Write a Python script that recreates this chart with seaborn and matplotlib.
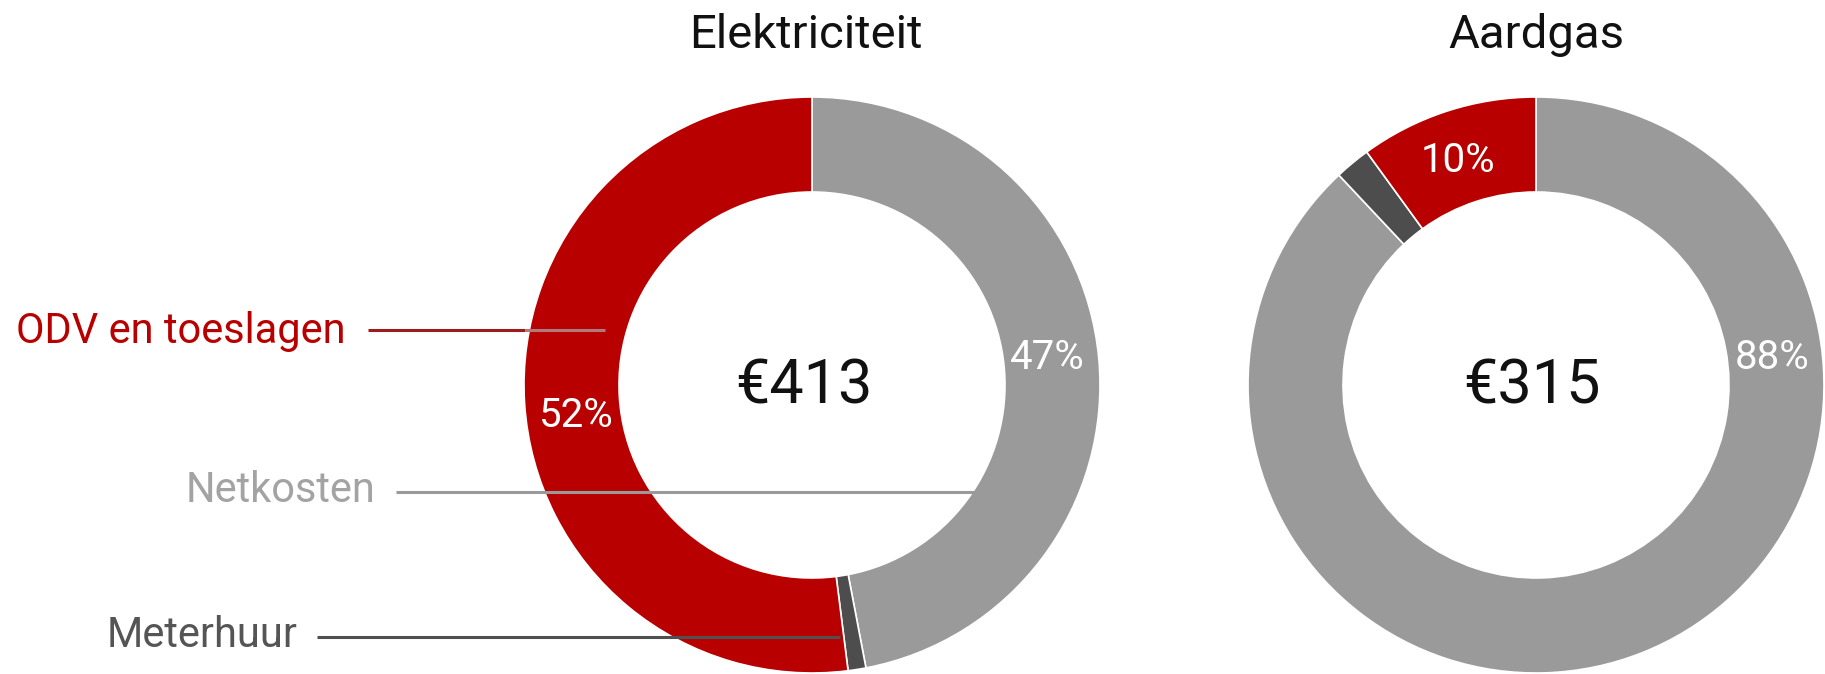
import numpy as np
import matplotlib.pyplot as plt
import seaborn as sns

# data
categories = ['Netkosten', 'Meterhuur', 'ODV en toeslagen']
elektriciteit = [47, 1, 52]
aardgas = [88, 2, 10]
totals = [413, 315]
titles = ['Elektriciteit', 'Aardgas']

sns.set_theme(style='white')
plt.rcParams['font.family'] = ['Roboto', 'DejaVu Sans']

W, H = 1825, 674
fig = plt.figure(figsize=(W / 100, H / 100), dpi=100)
ax = fig.add_axes([0, 0, 1, 1])


def yy(y):
    # pixel row (from top) -> data y
    return H - y


colors = ['#9a9a9a', '#4d4d4d', '#b80000']
text_colors = ['#a3a3a3', '#555555', '#b80000']
centers = [(812, 385), (1536, 385)]
title_x = [806, 1536]
total_x = [804, 1532]
R, ring = 288, 95

# percent label anchors (centre x, baseline y), None = no label
pct_pos = [[(1047, 369), None, (576, 427)],
           [(1772, 369), None, (1458, 172)]]

for i, (vals, (cx, cy), title, total, pos) in enumerate(
        zip([elektriciteit, aardgas], centers, titles, totals, pct_pos)):
    ax.pie(vals, colors=colors, startangle=90, counterclock=False, radius=R,
           center=(cx, yy(cy)),
           wedgeprops=dict(width=ring, edgecolor='white', linewidth=1.2))
    ax.text(title_x[i], yy(48), title, ha='center', va='baseline', fontsize=34, color='#111111')
    ax.text(total_x[i], yy(404), f'€{total}', ha='center', va='baseline', fontsize=44, color='#111111')
    for v, p in zip(vals, pos):
        if p is None:
            continue
        ax.text(p[0], yy(p[1]), f'{v}%', ha='center', va='baseline', fontsize=29, color='white')

# leader lines + side labels for the electricity donut
lw = 2.2
ax.plot([368, 525], [yy(330), yy(330)], color='#9b1c1c', lw=lw, solid_capstyle='butt')
ax.plot([525, 605], [yy(330), yy(330)], color='#b07a7a', lw=lw, solid_capstyle='butt')
ax.plot([396, 975], [yy(492), yy(492)], color='#9a9a9a', lw=lw, solid_capstyle='butt')
ax.plot([317, 840], [yy(637), yy(637)], color='#505050', lw=lw, solid_capstyle='butt')

label_pos = [(376, 502), (298, 647), (346, 343)]
for cat, (x, y), c in zip(categories, label_pos, text_colors):
    ax.text(x, yy(y), cat, ha='right', va='baseline', fontsize=30, color=c)

ax.set_xlim(0, W)
ax.set_ylim(0, H)
ax.set_aspect('equal')
ax.axis('off')

fig.savefig('out.png', dpi=100)
